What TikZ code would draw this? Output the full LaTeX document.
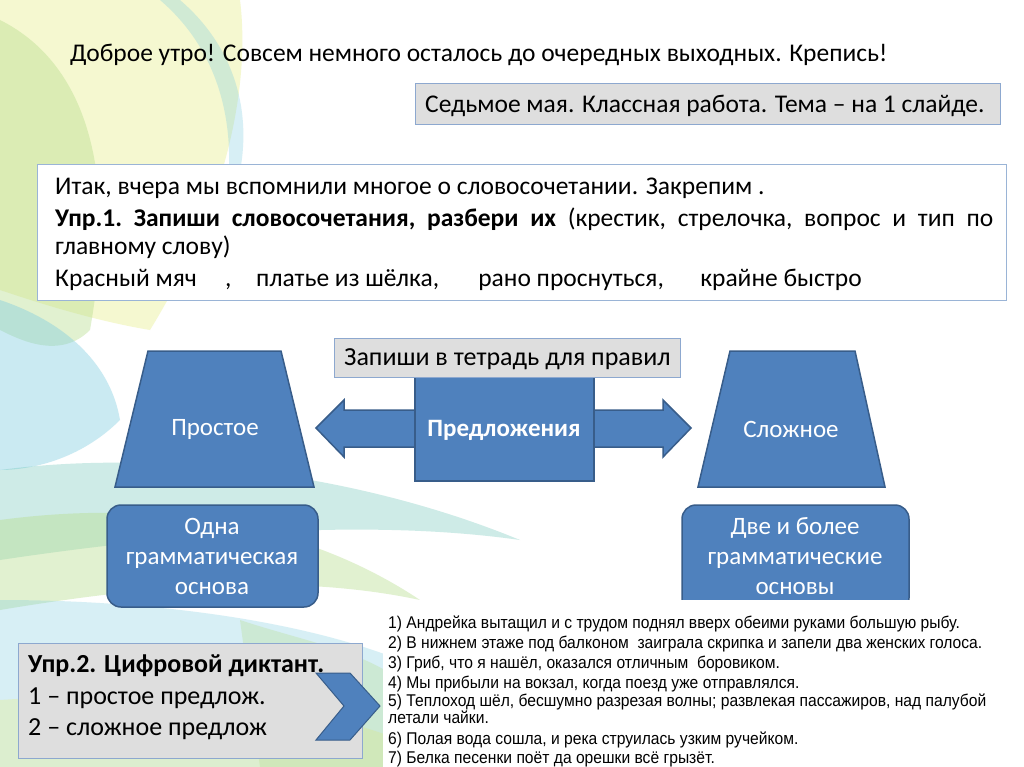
\documentclass[tikz,border=0pt]{standalone}
\usepackage{fontspec}
\setmainfont{Carlito}
\newfontfamily\listfont[FakeStretch=0.92]{Liberation Sans}
\definecolor{blu}{HTML}{4F81BD}
\definecolor{bluedge}{HTML}{385D8A}
\definecolor{greyfill}{HTML}{DEDEDE}
\definecolor{greyedge}{HTML}{8DA8CF}
\definecolor{boxedge}{HTML}{9AB4D6}
\definecolor{swgreen}{HTML}{B5DC8A}
\definecolor{swyellow}{HTML}{E6EE8A}
\definecolor{swcyan}{HTML}{7CCBE0}
\definecolor{swteal}{HTML}{5DBFB0}
\tikzset{
  graybox/.style={draw=greyedge, fill=greyfill, line width=1pt},
  whitebox/.style={draw=boxedge, fill=white, line width=1pt},
  bluebox/.style={draw=bluedge, fill=blu, line width=1.5pt},
  wtext/.style={text=white, font=\fontsize{25}{29}\selectfont, inner sep=0pt},
  btext/.style={text=black, inner sep=0pt, anchor=base west},
  ltext/.style={text=black, inner sep=0pt, anchor=base west, font=\listfont\fontsize{17}{19}\selectfont},
}
\begin{document}
\begin{tikzpicture}[x=1pt,y=-1pt]
\useasboundingbox (0,0) rectangle (1024,767);
\fill[white] (0,0) rectangle (1024,767);
% ---- decorative background swirls ----
\fill[swyellow, opacity=0.4] (0,0) -- (240,0) .. controls (250,80) and (230,200) .. (150,330) .. controls (90,320) and (30,300) .. (0,290) -- cycle;
\fill[swgreen, opacity=0.4] (0,20) .. controls (80,60) and (120,160) .. (90,330) .. controls (60,360) and (20,340) .. (0,330) -- cycle;
\fill[swcyan, opacity=0.3] (180,0) .. controls (250,60) and (260,150) .. (220,230) .. controls (240,150) and (230,60) .. (160,0) -- cycle;
\fill[swcyan, opacity=0.4] (0,300) .. controls (60,320) and (110,360) .. (120,420) .. controls (80,460) and (30,470) .. (0,470) -- cycle;
\fill[swteal, opacity=0.3] (0,470) .. controls (150,450) and (350,470) .. (520,540) .. controls (380,520) and (200,530) .. (0,560) -- cycle;
\fill[swgreen, opacity=0.4] (0,520) .. controls (150,500) and (300,520) .. (420,600) .. controls (280,570) and (120,590) .. (0,610) -- cycle;
\fill[swcyan, opacity=0.3] (0,600) .. controls (150,600) and (300,620) .. (400,660) -- (400,767) -- (0,767) -- cycle;
\fill[swyellow, opacity=0.35] (0,700) .. controls (150,690) and (300,700) .. (400,740) -- (400,767) -- (0,767) -- cycle;
\fill[swgreen, opacity=0.3] (240,620) .. controls (300,640) and (360,650) .. (400,680) -- (400,767) -- (260,767) -- cycle;
% ---- top text ----
\node[btext, font=\fontsize{25.5}{29}\selectfont] (greet) at (70,62) {Доброе утро! Совсем немного осталось до очередных выходных. Крепись!};
\draw[graybox] (415,84) rectangle (1000,125);
\node[btext, font=\fontsize{25.5}{29}\selectfont] (date) at (425,113) {Седьмое мая. Классная работа. Тема – на 1 слайде.};
% ---- exercise 1 box ----
\draw[whitebox] (37,165) rectangle (1006,300);
\begin{scope}[every node/.style={btext, font=\fontsize{25.5}{29}\selectfont}]
\node (l1) at (55,195) {Итак, вчера мы вспомнили многое о словосочетании. Закрепим .};
\node (l2) at (55,226) {\hbox to 938pt{\textbf{Упр.1.}\hfill\textbf{Запиши}\hfill\textbf{словосочетания,}\hfill\textbf{разбери}\hfill\textbf{их}\hfill(крестик,\hfill стрелочка,\hfill вопрос\hfill и\hfill тип\hfill по}};
\node (l3) at (55,254) {главному слову)};
\node (l4) at (55,286) {\makebox[0pt][l]{Красный мяч}\hspace{170pt}\makebox[0pt][l]{,}\hspace{31pt}\makebox[0pt][l]{платье из шёлка,}\hspace{222pt}\makebox[0pt][l]{рано проснуться,}\hspace{222pt}\makebox[0pt][l]{крайне быстро}};
\end{scope}
% ---- diagram ----
\draw[bluebox] (316,428) -- (344,400) -- (344,410) -- (663,410) -- (663,400) -- (691,428) -- (663,457) -- (663,447) -- (344,447) -- (344,457) -- cycle;
\draw[bluebox] (415,375) rectangle (594,481);
\node[wtext, font=\bfseries\fontsize{25}{29}\selectfont] (sent) at (504,430) {Предложения};
\draw[graybox] (334,338) rectangle (680,377);
\node[btext, font=\fontsize{26}{30}\selectfont] (rule) at (344,365) {Запиши в тетрадь для правил};
\draw[bluebox] (148,351) -- (281,351) -- (314,487) -- (115,487) -- cycle;
\node[wtext] (simple) at (215,429) {Простое};
\draw[bluebox] (730,351) -- (855,351) -- (885,487) -- (698,487) -- cycle;
\node[wtext] (complex) at (791,429) {Сложное};
\draw[bluebox, rounded corners=14pt] (107,505) rectangle (318,607);
\node[wtext, align=center, font=\fontsize{25}{30}\selectfont] (one) at (212,556) {Одна\\грамматическая\\основа};
\draw[bluebox, rounded corners=14pt] (682,505) rectangle (909,612);
\node[wtext, align=center, font=\fontsize{25}{30}\selectfont] (two) at (795,556) {Две и более\\грамматические\\основы};
% ---- bottom right list ----
\fill[white] (383,600) rectangle (1024,767);
\node[ltext] (s1) at (388,628) {1) Андрейка вытащил и с трудом поднял вверх обеими руками большую рыбу.};
\node[ltext] (s2) at (388,648) {2) В нижнем этаже под балконом\ \ заиграла скрипка и запели два женских голоса.};
\node[ltext] (s3) at (388,668) {3) Гриб, что я нашёл, оказался отличным\ \ боровиком.};
\node[ltext] (s4) at (388,688) {4) Мы прибыли на вокзал, когда поезд уже отправлялся.};
\node[ltext] (s5) at (388,706) {5) Теплоход шёл, бесшумно разрезая волны; развлекая пассажиров, над палубой};
\node[ltext] (s5b) at (388,723) {летали чайки.};
\node[ltext] (s6) at (388,744) {6) Полая вода сошла, и река струилась узким ручейком.};
\node[ltext] (s7) at (388,763) {7) Белка песенки поёт да орешки всё грызёт.};
% ---- exercise 2 box ----
\draw[graybox] (18,643) rectangle (362,758);
\begin{scope}[every node/.style={btext, font=\fontsize{26}{30}\selectfont}]
\node (e1) at (28,672) {\textbf{Упр.2. Цифровой диктант.}};
\node (e2) at (28,704) {1 – простое предлож.};
\node (e3) at (28,735) {2 – сложное предлож};
\end{scope}
\draw[bluebox, line width=1pt] (316,673) -- (350,673) -- (380,706) -- (350,740) -- (316,740) -- (344,706) -- cycle;
\end{tikzpicture}
\end{document}
